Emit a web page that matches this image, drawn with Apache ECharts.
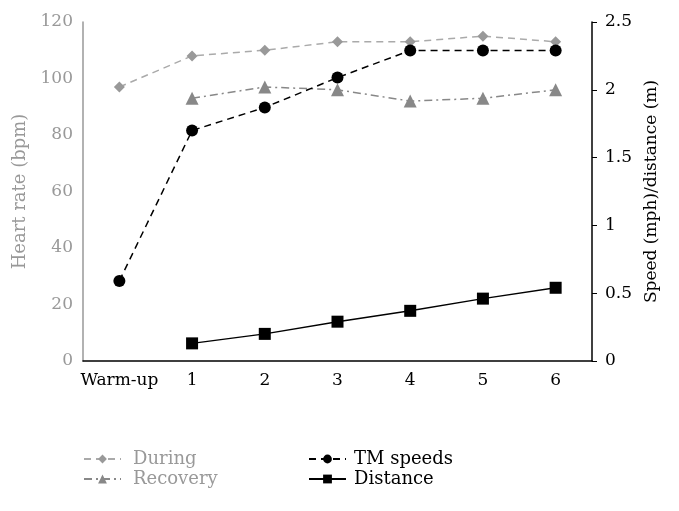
<!DOCTYPE html>
<html><head><meta charset="utf-8">
<script src="https://cdn.jsdelivr.net/npm/echarts@6/dist/echarts.min.js"></script>
<style>html,body{margin:0;padding:0;background:#fff}#c{width:679px;height:511px}</style>
</head><body><div id="c"></div>
<script>
const categories = ['Warm-up','1','2','3','4','5','6'];
const during = [97,108,110,113,113,115,113];
const recovery = [null,93,97,96,92,93,96];
const tmSpeeds = [0.59,1.70,1.87,2.09,2.29,2.29,2.29];
const distance = [null,0.13,0.20,0.29,0.37,0.46,0.54];
const font = "'DejaVu Serif','Liberation Serif',serif";
const chart = echarts.init(document.getElementById('c'));
chart.setOption({
  animation:false,
  grid:{left:83,right:87,top:22,bottom:150},
  legend:[
    {data:['During','Recovery'],orient:'vertical',left:83,top:449,padding:0,itemWidth:37,itemHeight:11,itemGap:0,
     textStyle:{fontFamily:font,fontSize:18,color:'#999',lineHeight:20,padding:[0,0,0,7]}},
    {data:['TM speeds','Distance'],orient:'vertical',left:308,top:449,padding:0,itemWidth:37,itemHeight:11,itemGap:0,
     textStyle:{fontFamily:font,fontSize:18,color:'#000',lineHeight:20,padding:[0,0,0,3]}}
  ],
  xAxis:{type:'category',data:categories,boundaryGap:true,
    axisLine:{lineStyle:{color:'#000',width:1.5}},axisTick:{show:false},
    axisLabel:{fontFamily:font,fontSize:17,color:'#000',margin:11,interval:0}},
  yAxis:[
    {type:'value',min:0,max:120,interval:20,name:'Heart rate (bpm)',nameLocation:'middle',nameGap:47,nameRotate:90,
     nameTextStyle:{fontFamily:font,fontSize:18,color:'#999'},
     axisLine:{show:true,lineStyle:{color:'#999',width:1.5}},axisTick:{show:false},splitLine:{show:false},
     axisLabel:{fontFamily:font,fontSize:17,color:'#999',margin:10}},
    {type:'value',min:0,max:2.5,interval:0.5,position:'right',name:'Speed (mph)/distance (m)',nameLocation:'middle',nameGap:50,nameRotate:90,
     nameTextStyle:{fontFamily:font,fontSize:17,color:'#000'},
     axisLine:{show:true,lineStyle:{color:'#000',width:1.5}},axisTick:{show:true,length:5,inside:false,lineStyle:{color:'#000'}},splitLine:{show:false},
     axisLabel:{fontFamily:font,fontSize:17,color:'#000',margin:13}}
  ],
  series:[
    {name:'During',type:'line',yAxisIndex:0,data:during,symbol:'diamond',symbolSize:11,
     lineStyle:{color:'#aaa',width:1.5,type:[7,5]},itemStyle:{color:'#999'}},
    {name:'Recovery',type:'line',yAxisIndex:0,data:recovery,symbol:'triangle',symbolSize:13,
     lineStyle:{color:'#888',width:1.5,type:[8,4,2,4]},itemStyle:{color:'#888'}},
    {name:'TM speeds',type:'line',yAxisIndex:1,data:tmSpeeds,symbol:'circle',symbolSize:12,
     lineStyle:{color:'#000',width:1.5,type:[7,5]},itemStyle:{color:'#000'}},
    {name:'Distance',type:'line',yAxisIndex:1,data:distance,symbol:'rect',symbolSize:12,
     lineStyle:{color:'#000',width:1.5,type:'solid'},itemStyle:{color:'#000'}}
  ]
});
</script></body></html>
